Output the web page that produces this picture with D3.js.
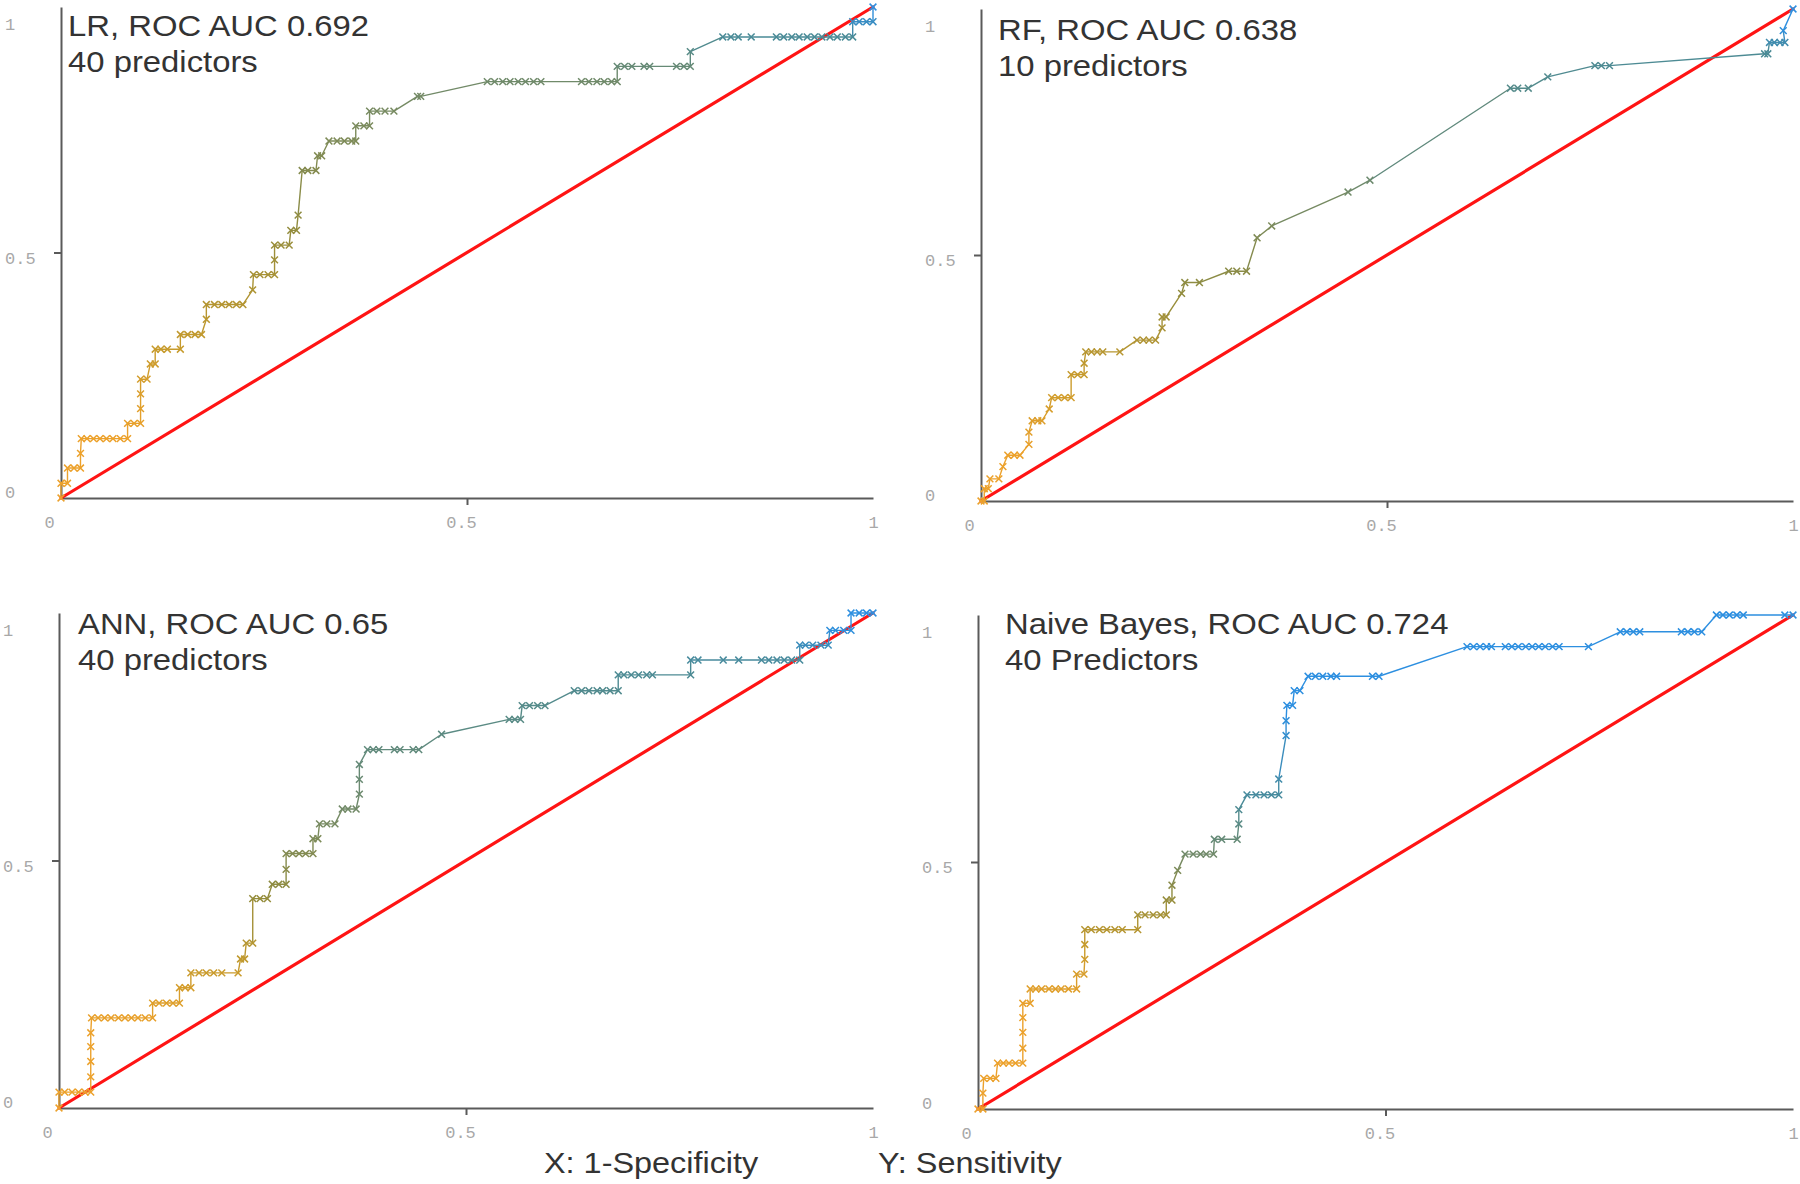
<!DOCTYPE html>
<html><head><meta charset="utf-8">
<script src="https://cdn.jsdelivr.net/npm/d3@7"></script>
<style>html,body{margin:0;padding:0;background:#fff;} svg{display:block;}</style>
</head><body>
<svg id="chart" width="1800" height="1184"></svg>
<script>
// ---------------- DATA ----------------
const tickValues = [0, 0.5, 1];
const tickLabels = ["0", "0.5", "1"];
const axisTitles = ["X: 1-Specificity", "Y: Sensitivity"];

const lrTitle  = ["LR, ROC AUC 0.692", "40 predictors"];
const rfTitle  = ["RF, ROC AUC 0.638", "10 predictors"];
const annTitle = ["ANN, ROC AUC 0.65", "40 predictors"];
const nbTitle  = ["Naive Bayes, ROC AUC 0.724", "40 Predictors"];

const lrFPR = [0,0,0.008,0.008,0.016,0.024,0.024,
  0.025,0.032,0.040,0.048,0.056,0.064,0.073,0.082,
  0.082,0.090,0.098,0.098,0.098,0.098,0.106,
  0.110,0.116,0.116,0.123,0.131,0.147,0.147,0.156,0.165,0.173,
  0.179,0.179,0.189,0.198,0.207,0.216,0.224,0.236,
  0.237,0.245,0.255,0.263,0.263,0.263,0.271,0.281,0.283,0.290,0.292,
  0.297,0.304,0.314,0.316,0.321,0.330,0.340,0.349,0.358,0.363,
  0.363,0.373,0.380,0.380,0.389,0.399,0.410,0.439,0.443,
  0.525,0.534,0.544,0.553,0.563,0.572,0.582,0.591,0.641,0.650,0.660,0.669,0.678,0.685,
  0.685,0.694,0.703,0.718,0.725,0.758,0.767,0.775,0.775,
  0.815,0.825,0.834,0.850,0.881,0.890,0.900,0.909,0.919,0.928,0.937,0.947,0.956,0.966,0.975,
  0.975,0.983,0.992,1.0,1.0];
const lrTPR = [0,0.030,0.030,0.061,0.061,0.061,0.091,
  0.121,0.121,0.121,0.121,0.121,0.121,0.121,0.121,
  0.152,0.152,0.152,0.182,0.212,0.242,0.242,
  0.273,0.273,0.303,0.303,0.303,0.303,0.333,0.333,0.333,0.333,
  0.364,0.394,0.394,0.394,0.394,0.394,0.394,0.424,
  0.455,0.455,0.455,0.455,0.485,0.515,0.515,0.515,0.545,0.545,0.576,
  0.667,0.667,0.667,0.697,0.697,0.727,0.727,0.727,0.727,0.727,
  0.758,0.758,0.758,0.788,0.788,0.788,0.788,0.818,0.818,
  0.848,0.848,0.848,0.848,0.848,0.848,0.848,0.848,0.848,0.848,0.848,0.848,0.848,0.848,
  0.879,0.879,0.879,0.879,0.879,0.879,0.879,0.879,0.909,
  0.939,0.939,0.939,0.939,0.939,0.939,0.939,0.939,0.939,0.939,0.939,0.939,0.939,0.939,0.939,
  0.970,0.970,0.970,0.970,1.0];

const rfFPR = [0,0.004,0.004,0.009,0.011,0.022,0.027,0.033,0.041,0.048,0.059,0.059,
  0.063,0.070,0.075,0.084,0.087,0.095,0.103,0.111,0.111,0.119,0.127,0.127,
  0.129,0.136,0.143,0.150,0.171,0.192,0.200,0.207,0.215,0.223,0.223,0.228,
  0.247,0.251,0.269,0.305,0.315,0.327,0.340,0.358,0.452,0.479,
  0.652,0.661,0.674,0.698,0.756,0.764,0.774,0.965,0.969,
  0.971,0.977,0.984,0.990,0.988,1.0];
const rfTPR = [0,0,0.025,0.025,0.045,0.045,0.070,0.093,0.093,0.093,0.115,0.140,
  0.163,0.163,0.163,0.187,0.210,0.210,0.210,0.210,0.257,0.257,0.257,0.280,
  0.303,0.303,0.303,0.303,0.303,0.327,0.327,0.327,0.327,0.352,0.374,0.374,
  0.422,0.444,0.444,0.467,0.467,0.467,0.535,0.559,0.628,0.652,
  0.839,0.839,0.839,0.862,0.885,0.885,0.885,0.909,0.909,
  0.932,0.932,0.932,0.932,0.956,1.0];

const annFPR = [0,0,0.007,0.016,0.024,0.032,0.039,0.039,0.039,0.039,0.039,
  0.040,0.048,0.056,0.064,0.073,0.081,0.089,0.097,0.106,0.115,
  0.115,0.123,0.132,0.140,0.148,0.148,0.155,0.162,
  0.162,0.172,0.181,0.190,0.200,0.220,0.223,0.228,0.230,0.238,
  0.238,0.247,0.256,0.262,0.270,0.279,0.279,
  0.279,0.287,0.295,0.303,0.312,0.312,0.318,0.320,0.329,0.339,0.348,0.355,0.365,
  0.369,0.369,0.369,0.379,0.386,0.393,0.412,0.419,0.435,0.442,0.470,
  0.553,0.560,0.567,0.569,0.578,0.588,0.597,
  0.633,0.642,0.651,0.661,0.668,0.677,0.687,
  0.687,0.694,0.703,0.712,0.722,0.729,0.776,
  0.776,0.785,0.816,0.835,0.863,0.872,0.882,0.891,0.900,0.910,
  0.910,0.917,0.926,0.936,0.945,0.947,0.954,0.964,0.973,
  0.973,0.983,0.992,1.0];
const annTPR = [0,0.032,0.032,0.032,0.032,0.032,0.032,0.063,0.094,0.124,0.152,
  0.182,0.182,0.182,0.182,0.182,0.182,0.182,0.182,0.182,0.182,
  0.212,0.212,0.212,0.212,0.212,0.243,0.243,0.243,
  0.273,0.273,0.273,0.273,0.273,0.273,0.301,0.301,0.333,0.333,
  0.423,0.423,0.423,0.452,0.452,0.452,0.482,
  0.514,0.514,0.514,0.514,0.514,0.544,0.544,0.574,0.574,0.574,0.604,0.604,0.604,
  0.634,0.664,0.694,0.724,0.724,0.724,0.724,0.724,0.724,0.724,0.755,
  0.785,0.785,0.785,0.813,0.813,0.813,0.813,
  0.843,0.843,0.843,0.843,0.843,0.843,0.843,
  0.875,0.875,0.875,0.875,0.875,0.875,0.875,
  0.905,0.905,0.905,0.905,0.905,0.905,0.905,0.905,0.905,0.905,
  0.935,0.935,0.935,0.935,0.935,0.965,0.965,0.965,0.965,
  1.0,1.0,1.0,1.0];

const nbFPR = [0,0.006,0.006,0.007,0.015,0.022,0.024,0.031,0.038,0.046,0.055,
  0.055,0.055,0.055,0.055,0.064,
  0.064,0.071,0.078,0.087,0.095,0.102,0.111,0.121,0.121,0.130,
  0.131,0.131,0.131,0.139,0.149,0.158,0.168,0.177,0.196,
  0.196,0.205,0.215,0.224,0.231,0.231,0.238,0.238,0.245,
  0.254,0.264,0.273,0.280,0.289,0.290,0.299,0.318,0.320,0.320,
  0.330,0.341,0.351,0.360,0.369,0.369,0.378,0.378,0.379,0.386,0.388,0.395,
  0.405,0.414,0.423,0.433,0.440,0.484,0.492,
  0.600,0.608,0.616,0.624,0.630,0.647,0.655,0.663,0.672,0.680,0.688,0.696,0.705,0.713,0.749,
  0.788,0.796,0.804,0.812,0.863,0.871,0.879,0.888,
  0.906,0.914,0.922,0.931,0.939,0.990,1.0];
const nbTPR = [0,0,0.032,0.062,0.062,0.062,0.093,0.093,0.093,0.093,0.093,
  0.123,0.155,0.185,0.214,0.214,
  0.243,0.243,0.243,0.243,0.243,0.243,0.243,0.243,0.273,0.273,
  0.303,0.333,0.363,0.363,0.363,0.363,0.363,0.363,0.363,
  0.393,0.393,0.393,0.393,0.393,0.423,0.423,0.453,0.483,
  0.516,0.516,0.516,0.516,0.516,0.546,0.546,0.546,0.577,0.606,
  0.636,0.636,0.636,0.636,0.636,0.668,0.756,0.786,0.817,0.817,0.847,0.847,
  0.876,0.876,0.876,0.876,0.876,0.876,0.876,
  0.936,0.936,0.936,0.936,0.936,0.936,0.936,0.936,0.936,0.936,0.936,0.936,0.936,0.936,0.936,
  0.966,0.966,0.966,0.966,0.966,0.966,0.966,0.966,
  1.0,1.0,1.0,1.0,1.0,1.0,1.0];

// ---------------- LAYOUT / STYLE ----------------
const colorRange = ["#eca12b", "#c89b2c", "#928c3d", "#6f8a6c", "#4a8b98", "#2d8fe0"];
const panels = [
  {fpr: lrFPR,  tpr: lrTPR,  title: lrTitle,  x0: 61,  x1: 873,  y0: 498,  y1: 7,
   tx: 68,   ty: 36,  stops: [0.13, 0.3, 0.55, 0.86, 0.94, 0.99]},
  {fpr: rfFPR,  tpr: rfTPR,  title: rfTitle,  x0: 981, x1: 1793, y0: 501,  y1: 9,
   tx: 998,  ty: 40,  stops: [0.1, 0.25, 0.42, 0.64, 0.92, 0.96]},
  {fpr: annFPR, tpr: annTPR, title: annTitle, x0: 59,  x1: 873,  y0: 1108, y1: 613,
   tx: 78,   ty: 634, stops: [0.17, 0.28, 0.43, 0.62, 0.9, 0.97]},
  {fpr: nbFPR,  tpr: nbTPR,  title: nbTitle,  x0: 978, x1: 1793, y0: 1109, y1: 615,
   tx: 1005, ty: 634, stops: [0.2, 0.33, 0.43, 0.52, 0.62, 0.8]}
];

const svg = d3.select("#chart");
const axisColor = "#5a5a5a";
const tickFont = "'Liberation Mono', 'DejaVu Sans Mono', monospace";
const textFont = "'Liberation Sans', Arial, sans-serif";
const xLabelDx = {0: -12, 0.5: -6, 1: 0};
const yLabelDy = {0: -6, 0.5: 5, 1: 17};

panels.forEach(p => {
  const x = d3.scaleLinear().domain([0, 1]).range([p.x0, p.x1]);
  const y = d3.scaleLinear().domain([0, 1]).range([p.y0, p.y1]);
  const color = d3.scaleLinear().domain(p.stops).range(colorRange).clamp(true);
  const g = svg.append("g");

  // axes
  const gx = g.append("g").attr("transform", `translate(0,${p.y0})`)
    .call(d3.axisBottom(x).tickValues(tickValues).tickSizeInner(7).tickSizeOuter(0)
      .tickFormat((d, i) => tickLabels[i]));
  const gy = g.append("g").attr("transform", `translate(${p.x0},0)`)
    .call(d3.axisLeft(y).tickValues(tickValues).tickSizeInner(7).tickSizeOuter(0)
      .tickFormat((d, i) => tickLabels[i]));
  [gx, gy].forEach(a => {
    a.select(".domain").attr("stroke", axisColor).attr("stroke-width", 2);
    a.selectAll(".tick line").attr("stroke", axisColor).attr("stroke-width", 2)
      .filter(d => d !== 0.5).remove();
    a.selectAll(".tick text").attr("fill", "#a8a8a8")
      .style("font-family", tickFont).style("font-size", "17px");
  });
  gx.selectAll(".tick text").attr("y", 18).attr("dy", "0.71em")
    .attr("dx", d => xLabelDx[d]).attr("text-anchor", "middle");
  gy.selectAll(".tick text").attr("x", -56).attr("text-anchor", "start")
    .attr("dy", "0.35em").attr("y", d => yLabelDy[d]);

  // reference diagonal
  g.append("line")
    .attr("x1", x(0)).attr("y1", y(0)).attr("x2", x(1)).attr("y2", y(1))
    .attr("stroke", "#ff1414").attr("stroke-width", 3.2).attr("stroke-linecap", "round");

  // curve segments
  const pts = p.fpr.map((f, i) => ({f, t: p.tpr[i]}));
  const segs = d3.pairs(pts);
  g.append("g").selectAll("line").data(segs).join("line")
    .attr("x1", d => x(d[0].f)).attr("y1", d => y(d[0].t))
    .attr("x2", d => x(d[1].f)).attr("y2", d => y(d[1].t))
    .attr("stroke", d => color((d[0].t + d[1].t) / 2))
    .attr("stroke-width", 1.4).attr("stroke-linecap", "round");

  // markers
  g.append("g").selectAll("path").data(pts).join("path")
    .attr("d", "M-3.4,-3.4L3.4,3.4M-3.4,3.4L3.4,-3.4")
    .attr("transform", d => `translate(${x(d.f)},${y(d.t)})`)
    .attr("stroke", d => color(d.t)).attr("stroke-width", 1.5).attr("fill", "none");

  // title
  const tg = g.append("g").attr("transform", `translate(${p.tx},${p.ty}) scale(1.095,1)`);
  tg.selectAll("text").data(p.title).join("text")
    .attr("x", 0).attr("y", (d, i) => i * 36)
    .attr("fill", "#333").style("font-family", textFont).style("font-size", "30px")
    .text(d => d);
});

// bottom axis descriptions
const bx = [544, 878];
svg.selectAll("text.axisTitle").data(axisTitles).join("text")
  .attr("class", "axisTitle")
  .attr("transform", (d, i) => `translate(${bx[i]},1173) scale(1.08,1)`)
  .attr("fill", "#333").style("font-family", textFont).style("font-size", "30px")
  .text(d => d);
</script>
</body></html>
